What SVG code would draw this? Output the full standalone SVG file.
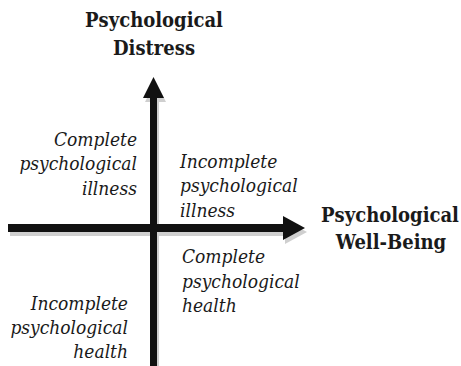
<svg xmlns="http://www.w3.org/2000/svg" width="461" height="366" viewBox="0 0 461 366">
  <style>
    text { fill: #1a1a1a; font-family: 'DejaVu Serif Condensed', 'DejaVu Serif', serif; }
    .axis-title { font-weight: bold; font-size: 20px; text-anchor: middle; }
    .quad { font-style: italic; font-size: 19px; }
    .end { text-anchor: end; }
    .shadow { fill: #cfcfcf; }
    .arrow { fill: #111111; }
  </style>
  <defs>
    <g id="vArrow">
      <rect x="150" y="96" width="7" height="272"/>
      <polygon points="153.5,77 143,98 164,98"/>
    </g>
    <g id="hArrow">
      <rect x="8" y="224" width="277" height="8"/>
      <polygon points="283,216 305,228 283,240"/>
    </g>
  </defs>

  <!-- axes with soft drop shadows -->
  <g id="connectors">
    <use href="#vArrow" class="shadow" transform="translate(2,4)"/>
    <use href="#hArrow" class="shadow" transform="translate(2,4)"/>
    <use href="#vArrow" class="arrow"/>
    <use href="#hArrow" class="arrow"/>
  </g>

  <g id="distress-axis">
    <text class="axis-title" x="154" y="27">Psychological</text>
    <text class="axis-title" x="154" y="55">Distress</text>
  </g>

  <g id="wellbeing-axis">
    <text class="axis-title" x="390" y="222">Psychological</text>
    <text class="axis-title" x="391" y="249">Well-Being</text>
  </g>

  <g id="complete-illness">
    <text class="quad end" x="137" y="146">Complete</text>
    <text class="quad end" x="137" y="170">psychological</text>
    <text class="quad end" x="137" y="195">illness</text>
  </g>

  <g id="incomplete-illness">
    <text class="quad" x="180" y="168">Incomplete</text>
    <text class="quad" x="180" y="192">psychological</text>
    <text class="quad" x="180" y="217">illness</text>
  </g>

  <g id="complete-health">
    <text class="quad" x="182" y="263">Complete</text>
    <text class="quad" x="182" y="288">psychological</text>
    <text class="quad" x="182" y="312">health</text>
  </g>

  <g id="incomplete-health">
    <text class="quad end" x="128" y="310">Incomplete</text>
    <text class="quad end" x="128" y="334">psychological</text>
    <text class="quad end" x="128" y="358">health</text>
  </g>
</svg>
